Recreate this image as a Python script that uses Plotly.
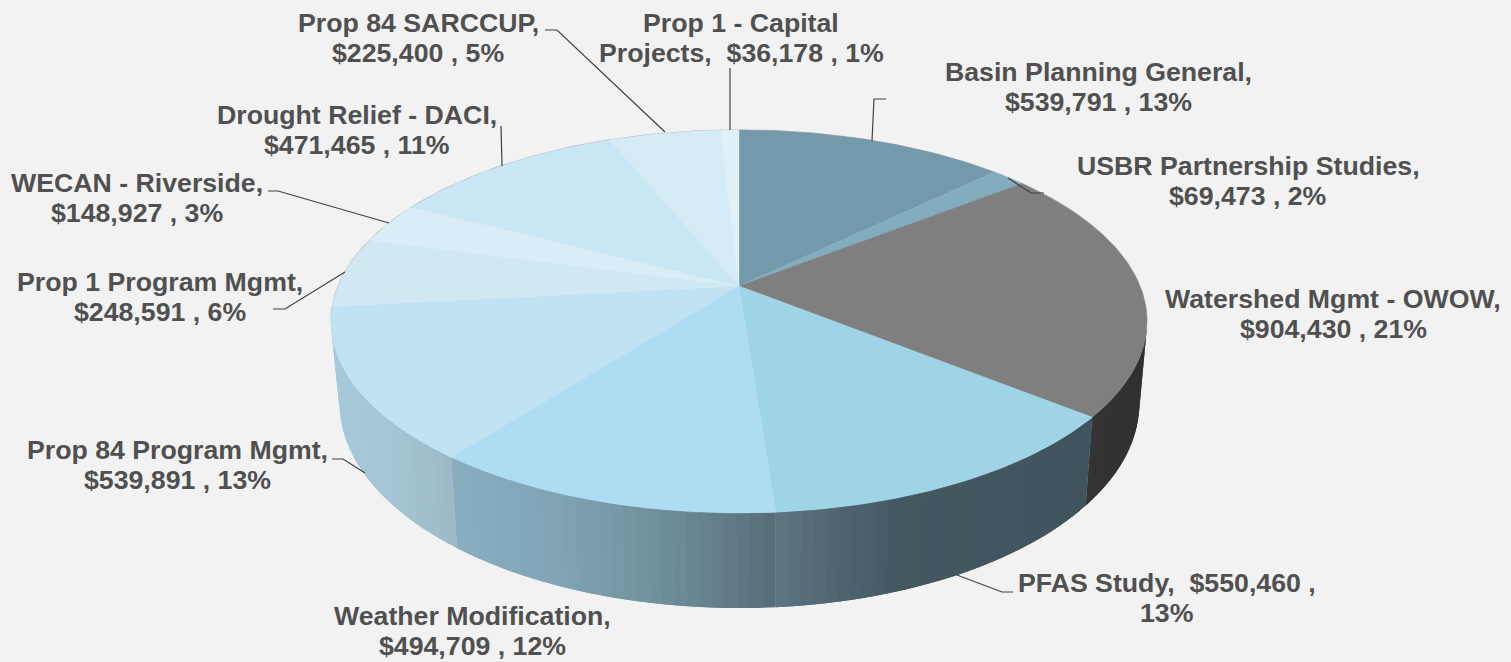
import numpy as np
import plotly.graph_objects as go

# ---- data ----
categories = ["Basin Planning General", "USBR Partnership Studies", "Watershed Mgmt - OWOW",
              "PFAS Study", "Weather Modification", "Prop 84 Program Mgmt", "Prop 1 Program Mgmt",
              "WECAN - Riverside", "Drought Relief - DACI", "Prop 84 SARCCUP", "Prop 1 - Capital Projects"]
amounts = [539791, 69473, 904430, 550460, 494709, 539891, 248591, 148927, 471465, 225400, 36178]
shares = [13, 2, 21, 13, 12, 13, 6, 3, 11, 5, 1]
top_colors = ["#7399aa", "#82adbf", "#7f7f7f", "#9fd3e6", "#aedcf2", "#bfe3f3",
              "#d0e7f4", "#d9edf7", "#c9e6f5", "#d4ebf6", "#e0f1f8"]

# ---- label placement: centre of each label block ----
label_pos = [(1098, 87), (1248, 181), (1333, 314), (1167, 598), (472, 631), (177, 465),
             (160, 297), (137, 198), (357, 130), (418, 37.5), (741, 37.5)]
LINE_GAP = 30
leaders = [
    [(886, 99), (874, 99), (872, 141)],
    [(1044, 193), (1031, 193), (1008, 178)],
    [(1013, 592), (1002, 592), (957, 575)],
    [(332, 459), (343, 459), (365, 473)],
    [(273, 309), (285, 309), (345, 272)],
    [(268, 191), (278, 191), (389, 223)],
    [(501, 126), (502, 166)],
    [(545, 30), (557, 30), (665, 132)],
    [(730, 68), (730, 130)],
]


def label_text(i):
    money = "$" + format(amounts[i], ",")
    c = categories[i]
    if c == "PFAS Study":
        return c + ",\u00a0 " + money + " ,", "%d%%" % shares[i]
    if c == "Prop 1 - Capital Projects":
        return "Prop 1 - Capital", "Projects,\u00a0 " + money + " , %d%%" % shares[i]
    return c + ",", money + " , %d%%" % shares[i]


# ---- view of the disc (tilted, with perspective) ----
K = 0.1854
TOP = dict(cx=739.0, cy=286.0, a=400.9, b=184.9)
BOT = dict(cx=739.5, cy=365.0, a=393.0, b=198.0)


def project(deg, view, r=1.0):
    t = np.radians(deg)
    u, v = r * np.sin(t), r * np.cos(t)
    d = 1 + K * v
    return view["cx"] + view["a"] * u / d, view["cy"] - view["b"] * v / d


def blend(stops, x):
    xs = [s[0] for s in stops]
    rgb = [np.interp(x, xs, [s[1][i] for s in stops]) for i in range(3)]
    return "rgb(%d,%d,%d)" % tuple(int(round(c)) for c in rgb)


wall_stops = {
    2: [(1085, (0x34, 0x34, 0x34)), (1145, (0x30, 0x30, 0x30))],
    3: [(776, (0x5e, 0x76, 0x82)), (830, (0x50, 0x67, 0x72)), (900, (0x44, 0x58, 0x60)),
        (1090, (0x40, 0x54, 0x5e))],
    4: [(452, (0x88, 0xae, 0xc0)), (560, (0x80, 0xa4, 0xb4)), (660, (0x70, 0x8f, 0x9c)),
        (776, (0x56, 0x6d, 0x79))],
    5: [(335, (0xa6, 0xc9, 0xd9)), (400, (0xa4, 0xc4, 0xd2)), (452, (0x9c, 0xb9, 0xc7))],
}

edges = np.degrees(np.arccos(-K))  # angle where the disc outline turns
vis_start, vis_end = edges, 360 - edges

total = sum(amounts)
bounds = [0.0]
for v in amounts:
    bounds.append(bounds[-1] + v / total * 360)

fig = go.Figure()


def poly(xs, ys, color, width=0.6):
    fig.add_trace(go.Scatter(x=list(xs), y=list(ys), mode="lines", fill="toself", fillcolor=color,
                             line=dict(color=color, width=width), hoverinfo="skip", showlegend=False))


# side wall: painted strip by strip, each strip overlapping the next so no seams show
for i, stops in wall_stops.items():
    a0, a1 = max(bounds[i], vis_start), min(bounds[i + 1], vis_end)
    if a1 <= a0:
        continue
    n = max(2, int((a1 - a0) / 1.5))
    ts = np.linspace(a0, a1, n + 1)
    for j in range(n):
        t0, t1 = ts[j], ts[min(j + 2, n)]
        seg = np.linspace(t0, t1, 5)
        xt, yt = project(seg, TOP)
        xb, yb = project(seg[::-1], BOT)
        mid = np.linspace(ts[j], ts[j + 1], 3)
        xm = (project(mid, TOP)[0].mean() + project(mid, BOT)[0].mean()) / 2
        poly(np.r_[xt, xb, xt[0]], np.r_[yt, yb, yt[0]], blend(stops, xm), 0)

# back rim hairline
rim = np.linspace(vis_end, 360 + vis_start, 200)
xr, yr = project(rim, TOP)
fig.add_trace(go.Scatter(x=xr, y=yr, mode="lines", line=dict(color="#b4b4b4", width=1.2),
                         hoverinfo="skip", showlegend=False))

# top face
for i, col in enumerate(top_colors):
    seg = np.linspace(bounds[i], bounds[i + 1], max(4, int((bounds[i + 1] - bounds[i]) * 1.5)))
    xs, ys = project(seg, TOP)
    poly(np.r_[TOP["cx"], xs, TOP["cx"]], np.r_[TOP["cy"], ys, TOP["cy"]], col, 0.4)

# leader lines
for pts in leaders:
    fig.add_trace(go.Scatter(x=[p[0] for p in pts], y=[p[1] for p in pts], mode="lines",
                             line=dict(color="#404040", width=1.2), hoverinfo="skip", showlegend=False))

# labels, one annotation per line for the tight line spacing of the reference
for i in range(len(categories)):
    x, y = label_pos[i]
    for line, dy in zip(label_text(i), (-LINE_GAP / 2, LINE_GAP / 2)):
        fig.add_annotation(x=x, y=y + dy, text=line, showarrow=False, xanchor="center", yanchor="middle",
                           align="center",
                           font=dict(family="Liberation Sans", size=26.7, color="#505050", weight="bold"))

fig.update_layout(
    width=1511, height=662, margin=dict(l=0, r=0, t=0, b=0, pad=0),
    paper_bgcolor="#f2f2f2", plot_bgcolor="#f2f2f2", showlegend=False,
    xaxis=dict(range=[0, 1511], visible=False, fixedrange=True),
    yaxis=dict(range=[662, 0], visible=False, fixedrange=True),
)
fig.write_html("out.html", config={"displayModeBar": False},
               post_script="document.body.style.margin='0';document.body.style.background='#f2f2f2';"
                           "document.documentElement.style.overflow='hidden';")
